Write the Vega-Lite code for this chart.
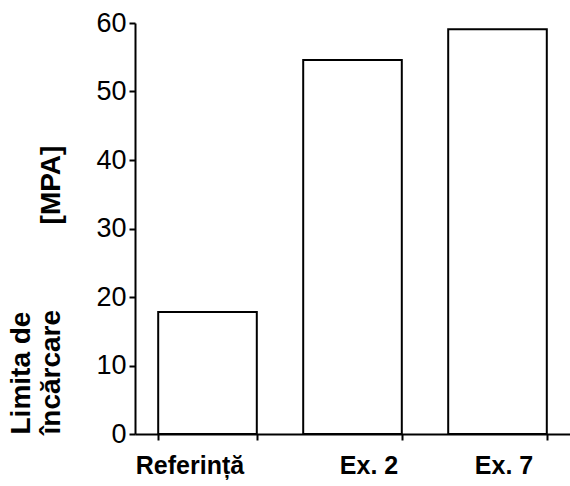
{
  "$schema": "https://vega.github.io/schema/vega-lite/v6.json",
  "autosize": "none",
  "width": 435,
  "height": 411,
  "padding": {"left": 135, "top": 23, "right": 0, "bottom": 52},
  "background": "white",
  "config": {"view": {"stroke": null}, "font": "Liberation Sans"},
  "data": {"values": [
    {"proba": "Referință", "limita": 17.8},
    {"proba": "Ex. 2", "limita": 54.6},
    {"proba": "Ex. 7", "limita": 59.1}
  ]},
  "mark": {"type": "bar", "fill": "white", "stroke": "black", "strokeWidth": 2},
  "encoding": {
    "x": {
      "field": "proba", "type": "nominal", "sort": null,
      "scale": {"paddingInner": 0.32, "paddingOuter": 0.16},
      "axis": {
        "title": null, "labelAngle": 0, "domainColor": "black", "domainWidth": 2,
        "tickColor": "black", "tickWidth": 2, "tickSize": 6, "tickBand": "extent",
        "labelFont": "Liberation Sans", "labelFontSize": 25, "labelFontWeight": "bold",
        "labelColor": "black", "labelPadding": 13,
        "labelOffset": {"expr": "datum.value == 'Referință' ? -18 : datum.value == 'Ex. 2' ? 16 : 6"}
      }
    },
    "y": {
      "field": "limita", "type": "quantitative",
      "scale": {"domain": [0, 60], "nice": false},
      "axis": {
        "values": [0, 10, 20, 30, 40, 50, 60], "grid": false,
        "domainColor": "black", "domainWidth": 2, "tickColor": "black", "tickWidth": 2, "tickSize": 6,
        "labelFont": "Liberation Sans", "labelFontSize": 27, "labelColor": "black", "labelPadding": 3,
        "title": ["Limita de", "încărcare\u00a0\u00a0\u00a0\u00a0\u00a0\u00a0\u00a0\u00a0\u00a0\u00a0\u00a0[MPA]"],
        "titleFont": "Liberation Sans", "titleFontSize": 28, "titleFontWeight": "bold", "titleColor": "black",
        "titleAnchor": "start", "titleLineHeight": 30, "titlePadding": 30
      }
    }
  }
}
